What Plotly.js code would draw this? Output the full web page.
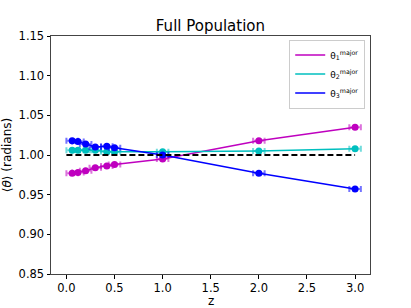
<!DOCTYPE html>
<html><head><meta charset="utf-8">
<script src="https://cdn.plot.ly/plotly-3.0.1.min.js"></script>
<style>html,body{margin:0;padding:0;background:#fff}#c{width:411px;height:308px}</style>
</head><body><div id="c"></div>
<script>
const z = [0.06, 0.12, 0.2, 0.3, 0.42, 0.5, 1.0, 2.0, 3.0];
const theta1 = [0.977, 0.978, 0.980, 0.984, 0.986, 0.988, 0.995, 1.018, 1.035];
const theta2 = [1.006, 1.006, 1.006, 1.006, 1.004, 1.004, 1.004, 1.005, 1.008];
const theta3 = [1.018, 1.017, 1.014, 1.010, 1.011, 1.009, 1.000, 0.977, 0.957];
const zErr = [0.06, 0.06, 0.06, 0.06, 0.06, 0.06, 0.06, 0.06, 0.06];
const yErr1 = [0.0015, 0.0015, 0.0015, 0.0015, 0.0015, 0.0015, 0.0015, 0.0015, 0.0015];
const yErr2 = [0.0015, 0.0015, 0.0015, 0.0015, 0.0015, 0.0015, 0.0015, 0.0015, 0.0015];
const yErr3 = [0.0015, 0.0015, 0.0015, 0.0015, 0.0015, 0.0015, 0.0015, 0.0015, 0.0015];
const refX = [0, 3];
const refY = [1, 1];
const names = ['θ<sub>1</sub><sup>major</sup>', 'θ<sub>2</sub><sup>major</sup>', 'θ<sub>3</sub><sup>major</sup>'];
const colors = ['#bf00bf', '#00bfbf', '#0000ff'];
const light = ['rgba(191,0,191,0.55)', 'rgba(0,191,191,0.55)', 'rgba(0,0,255,0.55)'];
const ys = [theta1, theta2, theta3];
const yErrs = [yErr1, yErr2, yErr3];
const traces = ys.map((y, i) => ({
  x: z, y: y, type: 'scatter', mode: 'lines+markers', name: names[i], showlegend: false,
  line: {color: colors[i], width: 1.5},
  marker: {color: colors[i], size: 7},
  error_x: {type: 'data', array: zErr, color: light[i], thickness: 2, width: 3},
  error_y: {type: 'data', array: yErrs[i], color: light[i], thickness: 1.5, width: 3}
}));
traces.push({x: refX, y: refY, type: 'scatter', mode: 'lines', showlegend: false,
  line: {color: '#000', width: 2, dash: '6px,3px'}, hoverinfo: 'skip'});
names.forEach((n, i) => traces.push({x: [null], y: [null], type: 'scatter', mode: 'lines', name: n,
  line: {color: colors[i], width: 1.5}}));
const axisCommon = {showgrid: false, zeroline: false, showline: true, mirror: true,
  linecolor: '#444', linewidth: 1, ticks: 'outside', ticklen: 3.5, tickcolor: '#000',
  tickfont: {family: 'DejaVu Sans', size: 11.5, color: '#000'}};
const layout = {
  width: 411, height: 308,
  margin: {l: 51, r: 41, t: 36, b: 34},
  paper_bgcolor: '#fff', plot_bgcolor: '#fff',
  title: {text: 'Full Population', font: {family: 'DejaVu Sans', size: 15, color: '#000'}, x: 0.512, xanchor: 'center', yref: 'container', y: 0.918, yanchor: 'middle'},
  xaxis: Object.assign({}, axisCommon, {range: [-0.16, 3.155], tickvals: [0, 0.5, 1, 1.5, 2, 2.5, 3], ticktext: ['0.0','0.5','1.0','1.5','2.0','2.5','3.0']}),
  yaxis: Object.assign({}, axisCommon, {range: [0.85, 1.15], tickvals: [0.85, 0.9, 0.95, 1.0, 1.05, 1.1, 1.15], ticktext: ['0.85','0.90','0.95','1.00','1.05','1.10','1.15'],
    title: {text: '⟨<i>θ</i>⟩ (radians)', font: {family: 'DejaVu Sans', size: 12, color: '#000'}, standoff: 4}}),
  annotations: [{text: 'z', xref: 'paper', yref: 'paper', x: 0.5, y: -0.113, xanchor: 'center', yanchor: 'middle', showarrow: false,
    font: {family: 'DejaVu Sans', size: 12, color: '#000'}}],
  legend: {x: 0.985, y: 0.985, xanchor: 'right', yanchor: 'top', bgcolor: 'rgba(255,255,255,0.8)', bordercolor: '#ccc', borderwidth: 1,
    font: {family: 'DejaVu Sans', size: 9, color: '#000'}, tracegroupgap: 0},
  showlegend: true
};
Plotly.newPlot('c', traces, layout, {staticPlot: true, displayModeBar: false});
</script></body></html>
